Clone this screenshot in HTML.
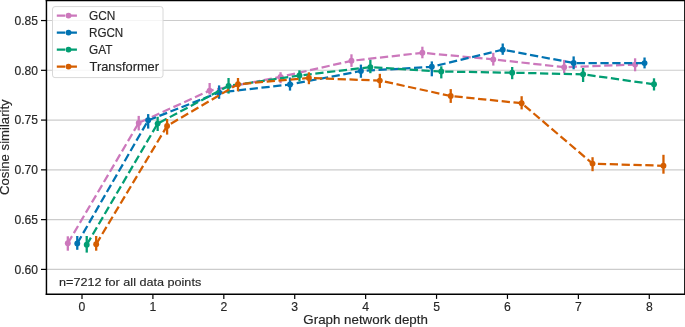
<!DOCTYPE html>
<html><head><meta charset="utf-8"><style>
html,body{margin:0;padding:0;background:#fff;width:685px;height:327px;overflow:hidden}
svg{display:block;will-change:transform}
</style></head><body>
<svg width="685" height="327" viewBox="0 0 685 327">
<rect width="685" height="327" fill="#fff"/>
<line x1="46.45" x2="684.85" y1="269.40" y2="269.40" stroke="#cccccc" stroke-width="1.1"/>
<line x1="46.45" x2="684.85" y1="219.63" y2="219.63" stroke="#cccccc" stroke-width="1.1"/>
<line x1="46.45" x2="684.85" y1="169.86" y2="169.86" stroke="#cccccc" stroke-width="1.1"/>
<line x1="46.45" x2="684.85" y1="120.09" y2="120.09" stroke="#cccccc" stroke-width="1.1"/>
<line x1="46.45" x2="684.85" y1="70.32" y2="70.32" stroke="#cccccc" stroke-width="1.1"/>
<line x1="46.45" x2="684.85" y1="20.55" y2="20.55" stroke="#cccccc" stroke-width="1.1"/>
<polyline points="67.82,243.30 138.73,122.90 209.64,90.60 280.55,76.90 351.46,60.80 422.37,52.80 493.28,59.40 564.19,67.20 635.10,64.60" fill="none" stroke="#cc78bc" stroke-width="2.25" stroke-dasharray="8.277 3.579"/>
<circle cx="67.82" cy="243.30" r="2.95" fill="#cc78bc"/>
<circle cx="138.73" cy="122.90" r="2.95" fill="#cc78bc"/>
<circle cx="209.64" cy="90.60" r="2.95" fill="#cc78bc"/>
<circle cx="280.55" cy="76.90" r="2.95" fill="#cc78bc"/>
<circle cx="351.46" cy="60.80" r="2.95" fill="#cc78bc"/>
<circle cx="422.37" cy="52.80" r="2.95" fill="#cc78bc"/>
<circle cx="493.28" cy="59.40" r="2.95" fill="#cc78bc"/>
<circle cx="564.19" cy="67.20" r="2.95" fill="#cc78bc"/>
<circle cx="635.10" cy="64.60" r="2.95" fill="#cc78bc"/>
<line x1="67.82" x2="67.82" y1="236.30" y2="250.70" stroke="#cc78bc" stroke-width="2.3"/>
<line x1="138.73" x2="138.73" y1="115.90" y2="130.40" stroke="#cc78bc" stroke-width="2.3"/>
<line x1="209.64" x2="209.64" y1="83.00" y2="94.60" stroke="#cc78bc" stroke-width="2.3"/>
<line x1="280.55" x2="280.55" y1="72.20" y2="83.20" stroke="#cc78bc" stroke-width="2.3"/>
<line x1="351.46" x2="351.46" y1="54.30" y2="66.90" stroke="#cc78bc" stroke-width="2.3"/>
<line x1="422.37" x2="422.37" y1="46.70" y2="58.30" stroke="#cc78bc" stroke-width="2.3"/>
<line x1="493.28" x2="493.28" y1="52.80" y2="65.60" stroke="#cc78bc" stroke-width="2.3"/>
<line x1="564.19" x2="564.19" y1="59.90" y2="73.20" stroke="#cc78bc" stroke-width="2.3"/>
<line x1="635.10" x2="635.10" y1="58.30" y2="71.30" stroke="#cc78bc" stroke-width="2.3"/>
<polyline points="77.27,243.40 148.18,120.30 219.09,92.50 290.00,84.50 360.91,71.00 431.82,66.80 502.73,49.70 573.64,63.00 644.55,63.10" fill="none" stroke="#0173b2" stroke-width="2.25" stroke-dasharray="8.277 3.579"/>
<circle cx="77.27" cy="243.40" r="2.95" fill="#0173b2"/>
<circle cx="148.18" cy="120.30" r="2.95" fill="#0173b2"/>
<circle cx="219.09" cy="92.50" r="2.95" fill="#0173b2"/>
<circle cx="290.00" cy="84.50" r="2.95" fill="#0173b2"/>
<circle cx="360.91" cy="71.00" r="2.95" fill="#0173b2"/>
<circle cx="431.82" cy="66.80" r="2.95" fill="#0173b2"/>
<circle cx="502.73" cy="49.70" r="2.95" fill="#0173b2"/>
<circle cx="573.64" cy="63.00" r="2.95" fill="#0173b2"/>
<circle cx="644.55" cy="63.10" r="2.95" fill="#0173b2"/>
<line x1="77.27" x2="77.27" y1="236.00" y2="249.80" stroke="#0173b2" stroke-width="2.3"/>
<line x1="148.18" x2="148.18" y1="114.10" y2="128.60" stroke="#0173b2" stroke-width="2.3"/>
<line x1="219.09" x2="219.09" y1="85.40" y2="98.80" stroke="#0173b2" stroke-width="2.3"/>
<line x1="290.00" x2="290.00" y1="77.50" y2="90.60" stroke="#0173b2" stroke-width="2.3"/>
<line x1="360.91" x2="360.91" y1="64.60" y2="77.80" stroke="#0173b2" stroke-width="2.3"/>
<line x1="431.82" x2="431.82" y1="61.40" y2="76.30" stroke="#0173b2" stroke-width="2.3"/>
<line x1="502.73" x2="502.73" y1="43.50" y2="54.80" stroke="#0173b2" stroke-width="2.3"/>
<line x1="573.64" x2="573.64" y1="56.40" y2="69.30" stroke="#0173b2" stroke-width="2.3"/>
<line x1="644.55" x2="644.55" y1="57.50" y2="68.40" stroke="#0173b2" stroke-width="2.3"/>
<polyline points="86.73,244.70 157.64,123.60 228.55,85.90 299.46,75.50 370.37,67.10 441.28,71.50 512.19,72.70 583.10,74.30 654.01,84.30" fill="none" stroke="#029e73" stroke-width="2.25" stroke-dasharray="8.277 3.579"/>
<circle cx="86.73" cy="244.70" r="2.95" fill="#029e73"/>
<circle cx="157.64" cy="123.60" r="2.95" fill="#029e73"/>
<circle cx="228.55" cy="85.90" r="2.95" fill="#029e73"/>
<circle cx="299.46" cy="75.50" r="2.95" fill="#029e73"/>
<circle cx="370.37" cy="67.10" r="2.95" fill="#029e73"/>
<circle cx="441.28" cy="71.50" r="2.95" fill="#029e73"/>
<circle cx="512.19" cy="72.70" r="2.95" fill="#029e73"/>
<circle cx="583.10" cy="74.30" r="2.95" fill="#029e73"/>
<circle cx="654.01" cy="84.30" r="2.95" fill="#029e73"/>
<line x1="86.73" x2="86.73" y1="236.00" y2="252.60" stroke="#029e73" stroke-width="2.3"/>
<line x1="157.64" x2="157.64" y1="116.80" y2="131.00" stroke="#029e73" stroke-width="2.3"/>
<line x1="228.55" x2="228.55" y1="78.00" y2="93.60" stroke="#029e73" stroke-width="2.3"/>
<line x1="299.46" x2="299.46" y1="70.30" y2="81.40" stroke="#029e73" stroke-width="2.3"/>
<line x1="370.37" x2="370.37" y1="59.80" y2="73.20" stroke="#029e73" stroke-width="2.3"/>
<line x1="441.28" x2="441.28" y1="66.30" y2="78.40" stroke="#029e73" stroke-width="2.3"/>
<line x1="512.19" x2="512.19" y1="67.00" y2="79.20" stroke="#029e73" stroke-width="2.3"/>
<line x1="583.10" x2="583.10" y1="68.00" y2="82.00" stroke="#029e73" stroke-width="2.3"/>
<line x1="654.01" x2="654.01" y1="78.30" y2="90.50" stroke="#029e73" stroke-width="2.3"/>
<polyline points="96.18,244.20 167.09,125.90 238.00,84.20 308.91,78.00 379.82,80.60 450.73,96.00 521.64,103.20 592.55,163.60 663.46,165.80" fill="none" stroke="#d55e00" stroke-width="2.25" stroke-dasharray="8.277 3.579"/>
<circle cx="96.18" cy="244.20" r="2.95" fill="#d55e00"/>
<circle cx="167.09" cy="125.90" r="2.95" fill="#d55e00"/>
<circle cx="238.00" cy="84.20" r="2.95" fill="#d55e00"/>
<circle cx="308.91" cy="78.00" r="2.95" fill="#d55e00"/>
<circle cx="379.82" cy="80.60" r="2.95" fill="#d55e00"/>
<circle cx="450.73" cy="96.00" r="2.95" fill="#d55e00"/>
<circle cx="521.64" cy="103.20" r="2.95" fill="#d55e00"/>
<circle cx="592.55" cy="163.60" r="2.95" fill="#d55e00"/>
<circle cx="663.46" cy="165.80" r="2.95" fill="#d55e00"/>
<line x1="96.18" x2="96.18" y1="236.00" y2="250.70" stroke="#d55e00" stroke-width="2.3"/>
<line x1="167.09" x2="167.09" y1="119.00" y2="134.60" stroke="#d55e00" stroke-width="2.3"/>
<line x1="238.00" x2="238.00" y1="78.00" y2="91.30" stroke="#d55e00" stroke-width="2.3"/>
<line x1="308.91" x2="308.91" y1="72.30" y2="84.20" stroke="#d55e00" stroke-width="2.3"/>
<line x1="379.82" x2="379.82" y1="73.80" y2="87.90" stroke="#d55e00" stroke-width="2.3"/>
<line x1="450.73" x2="450.73" y1="89.10" y2="102.90" stroke="#d55e00" stroke-width="2.3"/>
<line x1="521.64" x2="521.64" y1="96.20" y2="109.40" stroke="#d55e00" stroke-width="2.3"/>
<line x1="592.55" x2="592.55" y1="157.20" y2="171.20" stroke="#d55e00" stroke-width="2.3"/>
<line x1="663.46" x2="663.46" y1="154.80" y2="173.70" stroke="#d55e00" stroke-width="2.3"/>
<line x1="46.45" x2="46.45" y1="0" y2="294.975" stroke="#000" stroke-width="1.45"/>
<line x1="684.85" x2="684.85" y1="0" y2="294.975" stroke="#000" stroke-width="1.45"/>
<line x1="45.725" x2="685.575" y1="294.25" y2="294.25" stroke="#000" stroke-width="1.45"/>
<line x1="45.725" x2="685.575" y1="0.4" y2="0.4" stroke="#000" stroke-width="1.45"/>
<line x1="41.0" x2="46.45" y1="269.40" y2="269.40" stroke="#000" stroke-width="1.2"/>
<text x="14.52" y="273.70" font-size="12.2" font-family="'Liberation Sans', sans-serif" stroke="#262626" stroke-width="0.15" fill="#262626" textLength="23.59" lengthAdjust="spacingAndGlyphs">0.60</text>
<line x1="41.0" x2="46.45" y1="219.63" y2="219.63" stroke="#000" stroke-width="1.2"/>
<text x="14.52" y="223.93" font-size="12.2" font-family="'Liberation Sans', sans-serif" stroke="#262626" stroke-width="0.15" fill="#262626" textLength="23.59" lengthAdjust="spacingAndGlyphs">0.65</text>
<line x1="41.0" x2="46.45" y1="169.86" y2="169.86" stroke="#000" stroke-width="1.2"/>
<text x="14.52" y="174.16" font-size="12.2" font-family="'Liberation Sans', sans-serif" stroke="#262626" stroke-width="0.15" fill="#262626" textLength="23.59" lengthAdjust="spacingAndGlyphs">0.70</text>
<line x1="41.0" x2="46.45" y1="120.09" y2="120.09" stroke="#000" stroke-width="1.2"/>
<text x="14.52" y="124.39" font-size="12.2" font-family="'Liberation Sans', sans-serif" stroke="#262626" stroke-width="0.15" fill="#262626" textLength="23.59" lengthAdjust="spacingAndGlyphs">0.75</text>
<line x1="41.0" x2="46.45" y1="70.32" y2="70.32" stroke="#000" stroke-width="1.2"/>
<text x="14.52" y="74.62" font-size="12.2" font-family="'Liberation Sans', sans-serif" stroke="#262626" stroke-width="0.15" fill="#262626" textLength="23.59" lengthAdjust="spacingAndGlyphs">0.80</text>
<line x1="41.0" x2="46.45" y1="20.55" y2="20.55" stroke="#000" stroke-width="1.2"/>
<text x="14.52" y="24.85" font-size="12.2" font-family="'Liberation Sans', sans-serif" stroke="#262626" stroke-width="0.15" fill="#262626" textLength="23.59" lengthAdjust="spacingAndGlyphs">0.85</text>
<line x1="82.00" x2="82.00" y1="294.25" y2="298.9" stroke="#000" stroke-width="1.2"/>
<text x="82.00" y="310.5" text-anchor="middle" font-size="12.2" font-family="'Liberation Sans', sans-serif" stroke="#262626" stroke-width="0.15" fill="#262626">0</text>
<line x1="152.91" x2="152.91" y1="294.25" y2="298.9" stroke="#000" stroke-width="1.2"/>
<text x="152.91" y="310.5" text-anchor="middle" font-size="12.2" font-family="'Liberation Sans', sans-serif" stroke="#262626" stroke-width="0.15" fill="#262626">1</text>
<line x1="223.82" x2="223.82" y1="294.25" y2="298.9" stroke="#000" stroke-width="1.2"/>
<text x="223.82" y="310.5" text-anchor="middle" font-size="12.2" font-family="'Liberation Sans', sans-serif" stroke="#262626" stroke-width="0.15" fill="#262626">2</text>
<line x1="294.73" x2="294.73" y1="294.25" y2="298.9" stroke="#000" stroke-width="1.2"/>
<text x="294.73" y="310.5" text-anchor="middle" font-size="12.2" font-family="'Liberation Sans', sans-serif" stroke="#262626" stroke-width="0.15" fill="#262626">3</text>
<line x1="365.64" x2="365.64" y1="294.25" y2="298.9" stroke="#000" stroke-width="1.2"/>
<text x="365.64" y="310.5" text-anchor="middle" font-size="12.2" font-family="'Liberation Sans', sans-serif" stroke="#262626" stroke-width="0.15" fill="#262626">4</text>
<line x1="436.55" x2="436.55" y1="294.25" y2="298.9" stroke="#000" stroke-width="1.2"/>
<text x="436.55" y="310.5" text-anchor="middle" font-size="12.2" font-family="'Liberation Sans', sans-serif" stroke="#262626" stroke-width="0.15" fill="#262626">5</text>
<line x1="507.46" x2="507.46" y1="294.25" y2="298.9" stroke="#000" stroke-width="1.2"/>
<text x="507.46" y="310.5" text-anchor="middle" font-size="12.2" font-family="'Liberation Sans', sans-serif" stroke="#262626" stroke-width="0.15" fill="#262626">6</text>
<line x1="578.37" x2="578.37" y1="294.25" y2="298.9" stroke="#000" stroke-width="1.2"/>
<text x="578.37" y="310.5" text-anchor="middle" font-size="12.2" font-family="'Liberation Sans', sans-serif" stroke="#262626" stroke-width="0.15" fill="#262626">7</text>
<line x1="649.28" x2="649.28" y1="294.25" y2="298.9" stroke="#000" stroke-width="1.2"/>
<text x="649.28" y="310.5" text-anchor="middle" font-size="12.2" font-family="'Liberation Sans', sans-serif" stroke="#262626" stroke-width="0.15" fill="#262626">8</text>
<text x="303.33" y="324.30" font-size="12.2" font-family="'Liberation Sans', sans-serif" stroke="#262626" stroke-width="0.15" fill="#262626" textLength="124.52" lengthAdjust="spacingAndGlyphs">Graph network depth</text>
<text transform="translate(8.60,194.96) rotate(-90)" x="0" y="0" font-size="12.2" font-family="'Liberation Sans', sans-serif" stroke="#262626" stroke-width="0.15" fill="#262626" textLength="95.62" lengthAdjust="spacingAndGlyphs">Cosine similarity</text>
<text x="59.08" y="285.70" font-size="11.3" font-family="'Liberation Sans', sans-serif" stroke="#262626" stroke-width="0.15" fill="#262626" textLength="142.14" lengthAdjust="spacingAndGlyphs">n=7212 for all data points</text>
<rect x="52.5" y="6.6" width="110.5" height="71.0" rx="2.5" ry="2.5" fill="#fff" fill-opacity="0.8" stroke="#d8d8d8" stroke-width="1"/>
<line x1="56.8" x2="77.1" y1="15.6" y2="15.6" stroke="#cc78bc" stroke-width="2.25" stroke-dasharray="8.277 3.579"/>
<circle cx="68.5" cy="15.6" r="2.95" fill="#cc78bc"/>
<text x="89.01" y="19.90" font-size="12.2" font-family="'Liberation Sans', sans-serif" stroke="#262626" stroke-width="0.15" fill="#262626" textLength="26.37" lengthAdjust="spacingAndGlyphs">GCN</text>
<line x1="56.8" x2="77.1" y1="32.6" y2="32.6" stroke="#0173b2" stroke-width="2.25" stroke-dasharray="8.277 3.579"/>
<circle cx="68.5" cy="32.6" r="2.95" fill="#0173b2"/>
<text x="88.97" y="37.00" font-size="12.2" font-family="'Liberation Sans', sans-serif" stroke="#262626" stroke-width="0.15" fill="#262626" textLength="34.32" lengthAdjust="spacingAndGlyphs">RGCN</text>
<line x1="56.8" x2="77.1" y1="49.6" y2="49.6" stroke="#029e73" stroke-width="2.25" stroke-dasharray="8.277 3.579"/>
<circle cx="68.5" cy="49.6" r="2.95" fill="#029e73"/>
<text x="89.01" y="53.80" font-size="12.2" font-family="'Liberation Sans', sans-serif" stroke="#262626" stroke-width="0.15" fill="#262626" textLength="23.45" lengthAdjust="spacingAndGlyphs">GAT</text>
<line x1="56.8" x2="77.1" y1="66.6" y2="66.6" stroke="#d55e00" stroke-width="2.25" stroke-dasharray="8.277 3.579"/>
<circle cx="68.5" cy="66.6" r="2.95" fill="#d55e00"/>
<text x="89.58" y="70.60" font-size="12.2" font-family="'Liberation Sans', sans-serif" stroke="#262626" stroke-width="0.15" fill="#262626" textLength="69.46" lengthAdjust="spacingAndGlyphs">Transformer</text>
</svg>
</body></html>
